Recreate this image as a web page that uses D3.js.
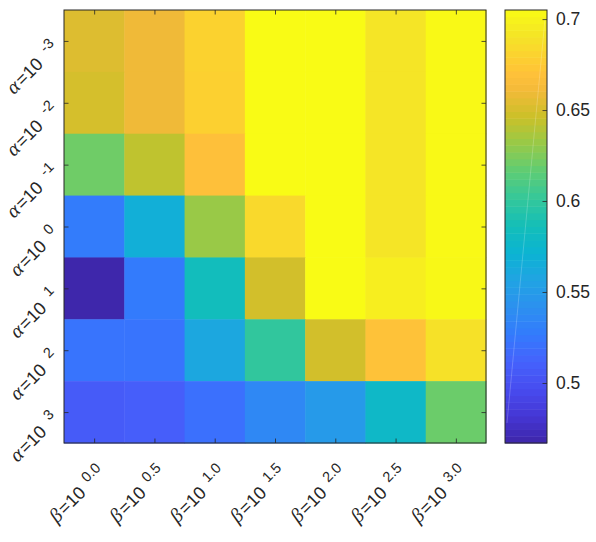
<!DOCTYPE html>
<html>
<head>
<meta charset="utf-8">
<script src="https://cdn.jsdelivr.net/npm/d3@7"></script>
<style>
    body { margin: 0; background: #fff; }
    text { font-family: "Liberation Sans", Arial, sans-serif; fill: #262626; }
</style>
</head>
<body>
<div id="chart"></div>
<script>
// tick labels (exponents)
const alphaExp = ["-3", "-2", "-1", "0", "1", "2", "3"];
const betaExp = ["0.0", "0.5", "1.0", "1.5", "2.0", "2.5", "3.0"];

// cell values, one row per alpha, columns follow betaExp
const rowAm3 = [0.653, 0.660, 0.680, 0.705, 0.705, 0.691, 0.704];
const rowAm2 = [0.650, 0.660, 0.679, 0.705, 0.705, 0.691, 0.704];
const rowAm1 = [0.621, 0.643, 0.669, 0.705, 0.705, 0.691, 0.704];
const rowA0 = [0.528, 0.567, 0.632, 0.684, 0.705, 0.691, 0.704];
const rowA1 = [0.468, 0.527, 0.584, 0.649, 0.705, 0.697, 0.703];
const rowA2 = [0.523, 0.523, 0.560, 0.600, 0.649, 0.670, 0.689];
const rowA3 = [0.507, 0.509, 0.520, 0.536, 0.549, 0.578, 0.620];
const rows = [rowAm3, rowAm2, rowAm1, rowA0, rowA1, rowA2, rowA3];

// colorbar
const colorLimits = [0.467, 0.705];
const colorTicks = [0.5, 0.55, 0.6, 0.65, 0.7];
const colorTickLabels = ["0.5", "0.55", "0.6", "0.65", "0.7"];

// parula colormap anchors (position 0..255 in the 256 map)
const parulaPos = [0, 16, 32, 48, 64, 80, 96, 112, 128, 144, 160, 176, 192, 208, 216, 224, 240, 255];
const parulaRgb = [
    [.2422, .1504, .6603], [.2704, .2138, .8346], [.2813, .2985, .9397], [.2710, .3860, .9898],
    [.2006, .4803, .9906], [.1716, .5655, .9393], [.1288, .6408, .8910], [.0433, .7039, .8242],
    [.0770, .7468, .7224], [.2061, .7808, .6065], [.3671, .8021, .4563], [.5886, .7913, .2833],
    [.7945, .7554, .1570], [.9523, .7284, .2237], [.9971, .7513, .2309], [.9938, .7974, .1974],
    [.9601, .8963, .1507], [.9769, .9839, .0805]
];

const width = 596, height = 542;
const plot = {left: 64, right: 486, top: 10, bottom: 443};
const cbar = {left: 505, right: 547};

const svg = d3.select("#chart").append("svg")
    .attr("width", width)
    .attr("height", height);

const parula = d3.scaleLinear()
    .domain(parulaPos.map(p => p / 255))
    .range(parulaRgb.map(c => d3.rgb(c[0] * 255, c[1] * 255, c[2] * 255)))
    .interpolate(d3.interpolateRgb)
    .clamp(true);

const toT = d3.scaleLinear().domain(colorLimits).range([0, 1]).clamp(true);
const color = v => parula(toT(v));

const x = d3.scaleBand().domain(betaExp).range([plot.left, plot.right]);
const y = d3.scaleBand().domain(alphaExp).range([plot.top, plot.bottom]);

// cells
const cells = [];
rows.forEach((r, i) => r.forEach((v, j) => cells.push({a: alphaExp[i], b: betaExp[j], v: v})));

svg.append("g").selectAll("rect")
    .data(cells)
    .enter()
    .append("rect")
    .attr("x", d => x(d.b))
    .attr("y", d => y(d.a))
    .attr("width", x.bandwidth() + 0.5)
    .attr("height", y.bandwidth() + 0.5)
    .attr("fill", d => color(d.v));

// inward ticks on all four sides
const tick = 4.5;
const xPts = d3.scalePoint().domain(betaExp).range([plot.left, plot.right]).padding(0.5);
const yPts = d3.scalePoint().domain(alphaExp).range([plot.top, plot.bottom]).padding(0.5);

function stripDomain(g) { g.select(".domain").remove(); g.selectAll("text").remove(); }

svg.append("g").attr("transform", `translate(0,${plot.bottom})`)
    .call(d3.axisBottom(xPts).tickSize(-tick)).call(stripDomain);
svg.append("g").attr("transform", `translate(0,${plot.top})`)
    .call(d3.axisTop(xPts).tickSize(-tick)).call(stripDomain);
svg.append("g").attr("transform", `translate(${plot.left},0)`)
    .call(d3.axisLeft(yPts).tickSize(-tick)).call(stripDomain);
svg.append("g").attr("transform", `translate(${plot.right},0)`)
    .call(d3.axisRight(yPts).tickSize(-tick)).call(stripDomain);
svg.selectAll(".tick line").attr("stroke", "#262626").attr("stroke-width", 0.8);

// box
svg.append("rect")
    .attr("x", plot.left).attr("y", plot.top)
    .attr("width", plot.right - plot.left).attr("height", plot.bottom - plot.top)
    .attr("fill", "none").attr("stroke", "#262626").attr("stroke-width", 1);

// rotated labels like "β=10 ^0.0" (greek letter in italic serif, as TeX does)
function powLabel(sel, sym, exp, expGap) {
    sel.append("tspan")
        .style("font-family", "Liberation Serif, serif")
        .style("font-style", "italic")
        .style("font-size", "20px")
        .text(sym);
    sel.append("tspan").attr("dx", 1.5).text("=10");
    sel.append("tspan").style("font-size", "14.5px").attr("dx", expGap).attr("dy", -7.5).text(exp);
}

svg.append("g").selectAll("text")
    .data(betaExp)
    .enter()
    .append("text")
    .attr("transform", d => `translate(${xPts(d) + 12.5},${plot.bottom + 31}) rotate(-45)`)
    .attr("text-anchor", "end")
    .style("font-size", "18px")
    .each(function(d) { powLabel(d3.select(this), "β", d, 8); });

svg.append("g").selectAll("text")
    .data(alphaExp)
    .enter()
    .append("text")
    .attr("transform", d => `translate(${plot.left - 4},${yPts(d) + 8.5}) rotate(-45)`)
    .attr("text-anchor", "end")
    .style("font-size", "18px")
    .each(function(d) { powLabel(d3.select(this), "α", d, 9.5); });

// colorbar
const cy = d3.scaleLinear().domain(colorLimits).range([plot.bottom, plot.top]);
const nBands = 64;
const bands = d3.range(nBands).map(i => colorLimits[0] + (i + 0.5) * (colorLimits[1] - colorLimits[0]) / nBands);
const bandH = (plot.bottom - plot.top) / nBands;

svg.append("g").selectAll("rect")
    .data(bands)
    .enter()
    .append("rect")
    .attr("x", cbar.left)
    .attr("y", d => cy(d) - bandH / 2)
    .attr("width", cbar.right - cbar.left)
    .attr("height", bandH + 0.5)
    .attr("fill", d => color(d));

// faint rendering streak seen in the original colorbar
svg.append("line")
    .attr("x1", cbar.left + 2).attr("y1", cy(0.478))
    .attr("x2", cbar.right - 2).attr("y2", cy(0.7))
    .attr("stroke", "#fff").attr("stroke-opacity", 0.3).attr("stroke-width", 0.7);

const cAxis = svg.append("g").attr("transform", `translate(${cbar.right},0)`)
    .call(d3.axisRight(cy).tickValues(colorTicks).tickSize(-tick).tickPadding(9)
        .tickFormat((d, i) => colorTickLabels[i]));
cAxis.select(".domain").remove();
cAxis.selectAll("line").attr("stroke", "#262626").attr("stroke-width", 0.8);
cAxis.selectAll("text").style("font-size", "17.5px")
    .style("font-family", "Liberation Sans, Arial, sans-serif").attr("fill", "#262626");

svg.append("rect")
    .attr("x", cbar.left).attr("y", plot.top)
    .attr("width", cbar.right - cbar.left).attr("height", plot.bottom - plot.top)
    .attr("fill", "none").attr("stroke", "#262626").attr("stroke-width", 1);
</script>
</body>
</html>
